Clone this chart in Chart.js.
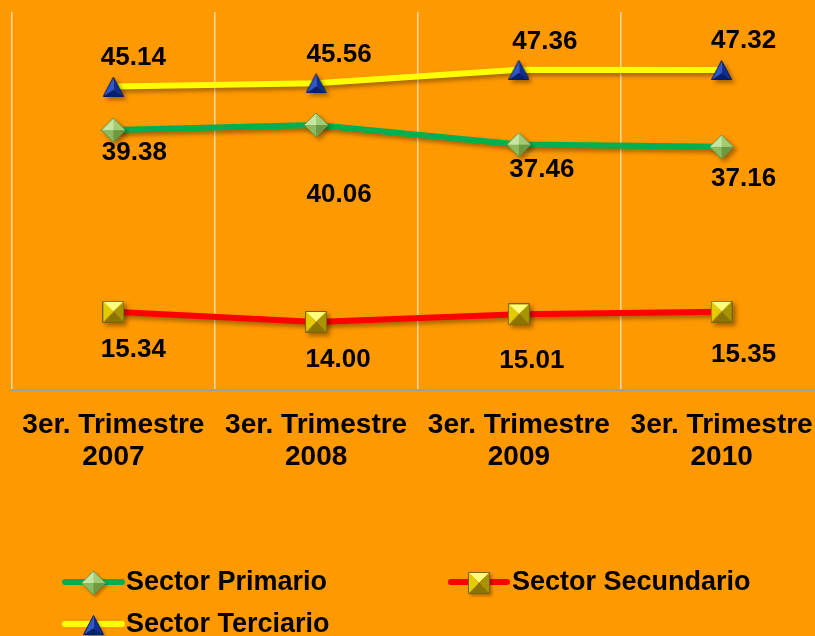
<!DOCTYPE html>
<html>
<head>
<meta charset="utf-8">
<script src="https://cdn.jsdelivr.net/npm/chart.js@4"></script>
<style>
  html, body { margin: 0; padding: 0; background: #FF9900; overflow: hidden; }
  #chart { position: absolute; left: 0; top: 0; }
</style>
</head>
<body>
<canvas id="chart" width="825" height="636"></canvas>
<script>
/* ── Data ──────────────────────────────────────────────────── */
const categories = [
  ['3er. Trimestre', '2007'],
  ['3er. Trimestre', '2008'],
  ['3er. Trimestre', '2009'],
  ['3er. Trimestre', '2010']
];
const seriesNames = ['Sector Primario', 'Sector Secundario', 'Sector Terciario'];
const primario    = [39.38, 40.06, 37.46, 37.16];
const secundario  = [15.34, 14.00, 15.01, 15.35];
const terciario   = [45.14, 45.56, 47.36, 47.32];

/* label offsets from each point (layout only) */
const labelOffsets = [
  [[21, 23], [23, 70], [23, 25], [22, 32]],
  [[20, 38], [22, 38], [13, 47], [22, 43]],
  [[20, -29], [23, -29], [26, -28], [22, -29]]
];

const FONT = "'Liberation Sans', Arial, sans-serif";

/* ── Bevelled marker images ─────────────────────────────────── */
function facetImage(w, h, pts, center, colors, edge) {
  const c = document.createElement('canvas');
  c.width = w; c.height = h;
  const g = c.getContext('2d');
  for (let i = 0; i < pts.length; i++) {
    const a = pts[i], b = pts[(i + 1) % pts.length];
    g.beginPath();
    g.moveTo(a[0], a[1]); g.lineTo(b[0], b[1]); g.lineTo(center[0], center[1]);
    g.closePath();
    g.fillStyle = colors[i];
    g.fill();
  }
  g.beginPath();
  pts.forEach((p, i) => i ? g.lineTo(p[0], p[1]) : g.moveTo(p[0], p[1]));
  g.closePath();
  g.strokeStyle = edge; g.lineWidth = 1; g.stroke();
  return c;
}

const diamondImg = facetImage(24, 24,
  [[0, 12], [12, 0], [24, 12], [12, 24]], [12, 12],
  ['#C6E4A2', '#A2CC74', '#6C9A43', '#8DBA5E'], '#6A9440');
const squareImg = facetImage(22, 22,
  [[0.5, 0.5], [21.5, 0.5], [21.5, 21.5], [0.5, 21.5]], [11, 11],
  ['#FFFF7A', '#A89400', '#8C7400', '#E2CC00'], '#7A6600');
const triangleImg = facetImage(21, 20,
  [[10.5, 0.5], [20.5, 19.5], [0.5, 19.5]], [10.5, 13],
  ['#0E2E9E', '#061F70', '#2D56D6'], '#061A66');

/* ── Plugin: shadows, value labels, legend ──────────────────── */
const decor = {
  id: 'decor',
  beforeDraw(chart) {
    const ctx = chart.ctx;
    ctx.save();
    ctx.fillStyle = '#FF9900';
    ctx.fillRect(0, 0, chart.width, chart.height);
    ctx.restore();
  },
  beforeDatasetsDraw(chart) {
    const ctx = chart.ctx;
    ctx.save();
    ctx.shadowColor = 'rgba(0,0,0,0.35)';
    ctx.shadowBlur = 4;
    ctx.shadowOffsetX = 3;
    ctx.shadowOffsetY = 3;
  },
  afterDatasetsDraw(chart) {
    const ctx = chart.ctx;
    ctx.restore();
    ctx.save();
    ctx.font = 'bold 26px ' + FONT;
    ctx.fillStyle = '#000';
    ctx.textAlign = 'center';
    ctx.textBaseline = 'middle';
    chart.data.datasets.forEach((ds, di) => {
      chart.getDatasetMeta(di).data.forEach((pt, i) => {
        const off = labelOffsets[di][i];
        ctx.fillText(ds.data[i].toFixed(2), pt.x + off[0], pt.y + off[1]);
      });
    });
    ctx.restore();
  },
  afterDraw(chart) {
    const ctx = chart.ctx;
    const slots = [
      { x1: 65,  x2: 122, tx: 126, y: 582 },
      { x1: 451, x2: 507, tx: 512, y: 582 },
      { x1: 65,  x2: 122, tx: 126, y: 624 }
    ];
    chart.data.datasets.forEach((ds, i) => {
      const s = slots[i];
      ctx.save();
      ctx.strokeStyle = ds.borderColor;
      ctx.lineWidth = 6;
      ctx.lineCap = 'round';
      ctx.beginPath();
      ctx.moveTo(s.x1, s.y); ctx.lineTo(s.x2, s.y);
      ctx.stroke();
      const img = ds.pointStyle;
      ctx.shadowColor = 'rgba(0,0,0,0.3)';
      ctx.shadowBlur = 3; ctx.shadowOffsetX = 2; ctx.shadowOffsetY = 2;
      ctx.drawImage(img, (s.x1 + s.x2) / 2 - img.width / 2, s.y - img.height / 2 + 1);
      ctx.restore();
      ctx.save();
      ctx.font = 'bold 27px ' + FONT;
      ctx.fillStyle = '#000';
      ctx.textAlign = 'left';
      ctx.textBaseline = 'middle';
      ctx.fillText(ds.label, s.tx, s.y + 1);
      ctx.restore();
    });
  }
};

/* ── Chart ──────────────────────────────────────────────────── */
new Chart(document.getElementById('chart'), {
  type: 'line',
  data: {
    labels: categories,
    datasets: [
      { label: seriesNames[0], data: primario,   borderColor: '#00B050', pointStyle: diamondImg },
      { label: seriesNames[1], data: secundario, borderColor: '#FF0000', pointStyle: squareImg },
      { label: seriesNames[2], data: terciario,  borderColor: '#FFFF00', pointStyle: triangleImg }
    ].map(d => Object.assign(d, { borderWidth: 6, tension: 0, fill: false }))
  },
  options: {
    responsive: false,
    animation: false,
    layout: { autoPadding: false, padding: { left: 12, top: 12, right: 2, bottom: 0 } },
    plugins: { legend: { display: false }, tooltip: { enabled: false } },
    scales: {
      x: {
        offset: true,
        grid: { display: true, offset: true, color: '#FFD9A0', lineWidth: 1.5, drawTicks: false },
        border: { display: true, color: '#A0A0A0', width: 2 },
        ticks: {
          color: '#000',
          padding: 19,
          maxRotation: 0,
          autoSkip: false,
          font: { family: FONT, size: 28, weight: 'bold', lineHeight: 32 / 28 }
        },
        afterFit(scale) {
          scale.height = 246;
          scale.paddingLeft = 0;
          scale.paddingRight = 0;
        }
      },
      y: { display: false, min: 5, max: 55 }
    }
  },
  plugins: [decor]
});
</script>
</body>
</html>
